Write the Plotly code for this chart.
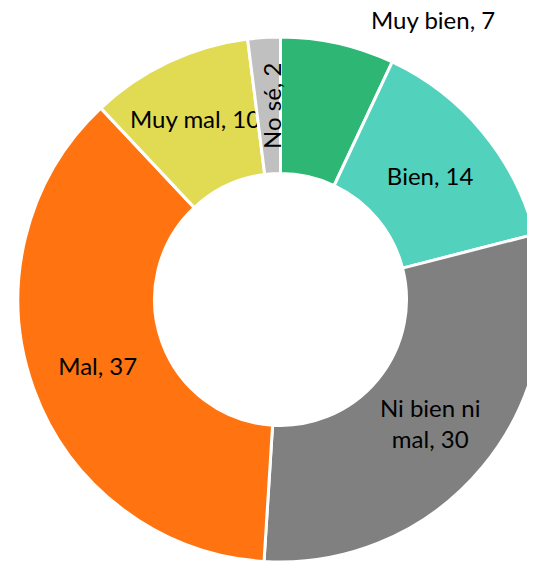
import math
import plotly.graph_objects as go

categories = ["Muy bien", "Bien", "Ni bien ni mal", "Mal", "Muy mal", "No sé"]
values = [7, 14, 30, 37, 10, 2]
colors = ["#2EB774", "#52D1BC", "#808080", "#FF7410", "#E1DA53", "#C0C0C0"]
text_labels = ["Muy bien, 7", "Bien, 14", "Ni bien ni<br>mal, 30", "Mal, 37", "Muy mal, 10", "No sé, 2"]
# slices whose label is drawn as an annotation instead of inside text
annotated = ["Muy bien", "No sé"]

W, H = 535, 561
ml, mr, mt, mb = 10, 0, 29, 7
HOLE = 0.48
FONT = dict(family="Lato, Liberation Sans, Arial, sans-serif", size=24, color="black")

inside_text = [("" if c in annotated else t) for c, t in zip(categories, text_labels)]
positions = [("none" if c in annotated else "inside") for c in categories]

fig = go.Figure(go.Pie(
    labels=categories,
    values=values,
    text=inside_text,
    texttemplate="%{text}",
    textposition=positions,
    insidetextorientation="horizontal",
    sort=False,
    direction="clockwise",
    rotation=0,
    hole=HOLE,
    marker=dict(colors=colors, line=dict(color="white", width=3)),
    textfont=FONT,
    showlegend=False,
    automargin=False,
))

# pie geometry in plot-area pixels (derived from the layout)
pw, ph = W - ml - mr, H - mt - mb
r_px = min(pw, ph) / 2
cx_px, cy_px = pw / 2, ph / 2  # relative to plot-area top-left
total = sum(values)
cum = 0
for c, v, t in zip(categories, values, text_labels):
    mid = (cum + v / 2) / total * 2 * math.pi
    cum += v
    if c == "No sé":
        rr = r_px * (1 + HOLE) / 2
        px = cx_px + rr * math.sin(mid) + 3
        py = cy_px - rr * math.cos(mid)
        fig.add_annotation(
            x=px / pw, y=1 - py / ph, xref="paper", yref="paper", text=t,
            xanchor="center", yanchor="middle",
            showarrow=False, textangle=-90, font=FONT,
        )
    elif c == "Muy bien":
        # outside label, up and to the right of its slice
        px, py = 415, -17
        fig.add_annotation(
            x=px / pw, y=1 - py / ph, xref="paper", yref="paper",
            xanchor="center", yanchor="middle",
            text=t, showarrow=False, font=FONT,
        )

fig.update_layout(
    width=W, height=H,
    margin=dict(l=ml, r=mr, t=mt, b=mb),
    paper_bgcolor="white",
    uniformtext=dict(minsize=24, mode="show"),
)
fig.write_html("out.html")
